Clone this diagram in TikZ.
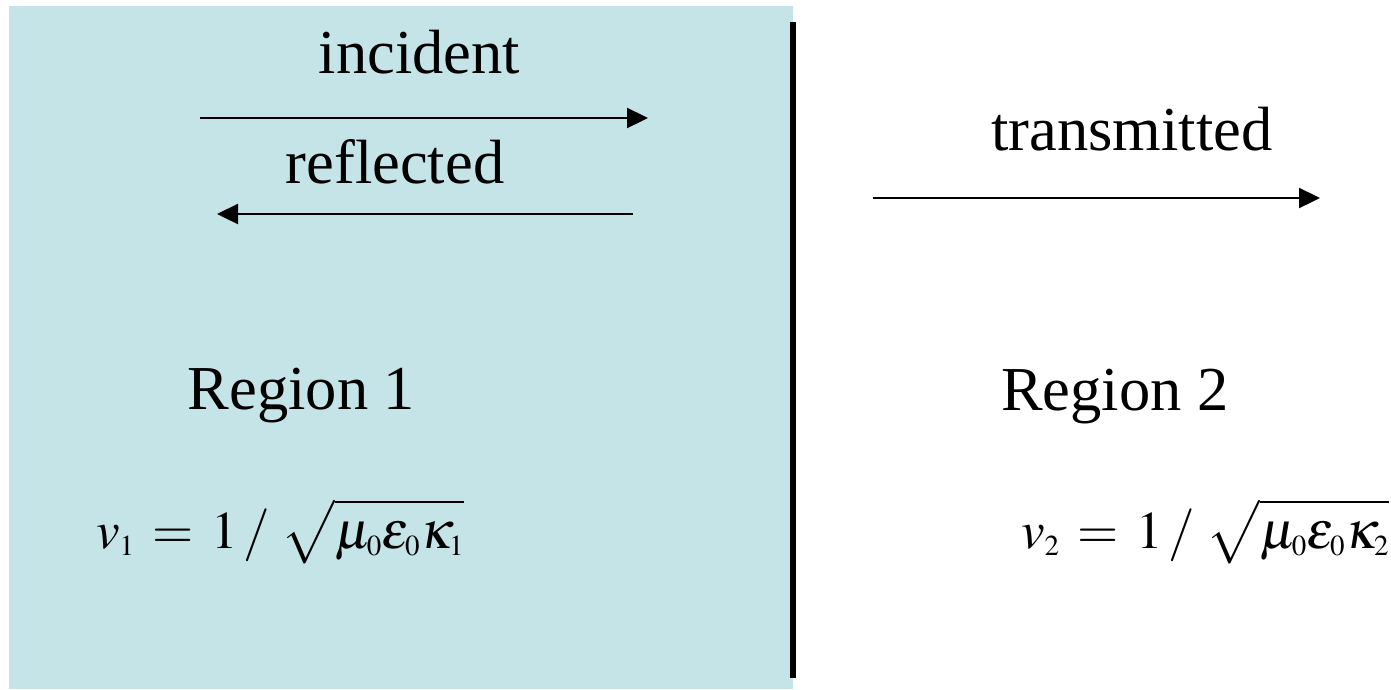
\documentclass[tikz,border=0pt]{standalone}
\usepackage{mathptmx}
\usepackage[no-math]{fontspec}
\setmainfont{Liberation Serif}
\usetikzlibrary{arrows.meta}
\definecolor{regionbg}{RGB}{196,228,231}
\DeclareMathSizes{53}{53}{29}{23}
\begin{document}
\begin{tikzpicture}[x=1pt,y=-1pt,
  lbl/.style={font=\fontsize{62.5}{70}\selectfont, inner sep=0pt, anchor=base},
  eq/.style={font=\fontsize{53}{60}\selectfont, inner sep=0pt, anchor=base west},
  wave/.style={line width=2.3pt, -{Triangle[length=21pt,width=20pt]}},
  boundary/.style={line width=6pt}]
\useasboundingbox (0,0) rectangle (1391,689);
% region 1 background
\fill[regionbg] (9,6) rectangle (793,689);
% interface
\coordinate (bTop) at (793,22);
\coordinate (bBot) at (793,678);
\draw[boundary] (bTop) -- (bBot);
% labels
\node[lbl] (incident) at (419.5,73) {incident};
\node[lbl] (reflected) at (395,183) {reflected};
\node[lbl] (transmitted) at (1132,150) {transmitted};
\node[lbl] (region1) at (301.5,409) {Region 1};
\node[lbl] (region2) at (1115,410) {Region 2};
% arrows
\coordinate (incS) at (200,118);
\coordinate (incE) at (648,118);
\coordinate (refS) at (633,214);
\coordinate (refE) at (217,214);
\coordinate (traS) at (873,198);
\coordinate (traE) at (1320,198);
\draw[wave] (incS) -- (incE);
\draw[wave] (refS) -- (refE);
\draw[wave] (traS) -- (traE);
% formulas
\node[eq] (v1) at (96,548) {$v_{1} \mathrel{\,=\,} 1\,/\;\sqrt{\rule{0pt}{0.72em}\mu_{0}\varepsilon_{0}\kappa_{1}}$};
\node[eq] (v2) at (1021,548) {$v_{2} \mathrel{\,=\,} 1\,/\;\sqrt{\rule{0pt}{0.72em}\mu_{0}\varepsilon_{0}\kappa_{2}}$};
\end{tikzpicture}
\end{document}
